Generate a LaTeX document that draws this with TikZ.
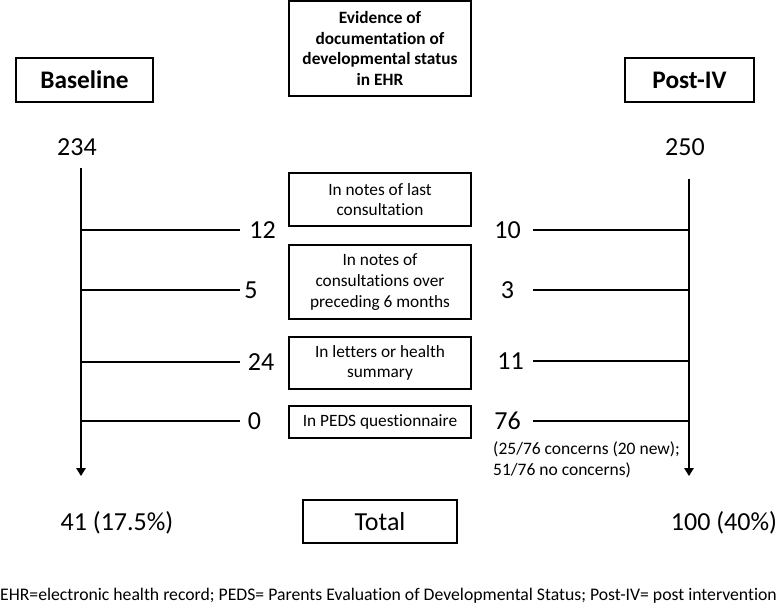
\documentclass[tikz,border=0pt]{standalone}
\usepackage{fontspec}
\setmainfont{Carlito}[Ligatures=CommonOff]
\usetikzlibrary{arrows.meta}

\begin{document}
\begin{tikzpicture}[x=1pt, y=-1pt,
  caja/.style={draw, line width=1.3pt, align=center, inner sep=2pt,
               minimum width=182pt, font=\fontsize{17.3}{20.7}\selectfont},
  cabecera/.style={draw, line width=1.3pt, minimum height=44pt,
               font=\fontsize{25.3}{30}\selectfont\bfseries},
  cifra/.style={font=\fontsize{26}{30}\selectfont, inner sep=0pt},
  nota/.style={font=\fontsize{17.5}{21}\selectfont, inner sep=0pt},
  linea/.style={line width=1.4pt},
  flecha/.style={linea, -{Triangle[length=8pt, width=9.5pt]}}]
  \useasboundingbox (0,0) rectangle (777,615);
  % Cabeceras
  \node[cabecera, minimum width=137pt] (base) at (84.5,80) {Baseline};
  \node[cabecera, minimum width=129pt] (post) at (689.5,80) {Post-IV};
  \node[caja, minimum height=95pt, font=\fontsize{17.3}{20.7}\selectfont\bfseries]
       (evid) at (380,48.5)
       {Evidence of\\documentation of\\developmental status\\in EHR};
  \node[cifra] (n234) at (77,147) {234};
  \node[cifra] (n250) at (685,147) {250};
  % Cajas centrales
  \node[caja, minimum height=53pt] (ult) at (380,199.5)
       {In notes of last\\consultation};
  \node[caja, minimum height=74pt] (prev) at (380,282)
       {In notes of\\consultations over\\preceding 6 months};
  \node[caja, minimum height=52pt] (cart) at (380,363)
       {In letters or health\\summary};
  \node[caja, minimum height=32pt] (peds) at (380,422)
       {In PEDS questionnaire};
  \node[caja, minimum width=154pt, minimum height=43pt,
        font=\fontsize{26}{30}\selectfont] (total) at (380,521.5) {Total};
  % Cifras
  \node[cifra] (l12) at (262.5,230) {12};
  \node[cifra] (l5)  at (251,290) {5};
  \node[cifra] (l24) at (261,362) {24};
  \node[cifra] (l0)  at (254.5,421) {0};
  \node[cifra] (r10) at (507.5,230) {10};
  \node[cifra] (r3)  at (507.5,290) {3};
  \node[cifra] (r11) at (510.5,361) {11};
  \node[cifra] (r76) at (507.5,421) {76};
  \node[nota, align=left, anchor=north west] (conc) at (493,441)
       {(25/76 concerns (20 new);\\51/76 no concerns)};
  \node[cifra] (tbase) at (117,523) {41 (17.5\%)};
  \node[cifra] (tpost) at (724,523) {100 (40\%)};
  \node[nota, font=\fontsize{17.7}{21}\selectfont] (pie) at (388.5,596)
       {EHR=electronic health record; PEDS= Parents Evaluation of Developmental Status; Post-IV= post intervention};
  % Lineas
  \coordinate (lini) at (81,168);
  \coordinate (lfin) at (81,476);
  \coordinate (rini) at (689,179);
  \coordinate (rfin) at (689,476);
  \coordinate (lcorte) at (240,0);
  \coordinate (rcorte) at (533,0);
  \draw[flecha] (lini) -- (lfin);
  \draw[flecha] (rini) -- (rfin);
  \foreach \n in {l12,l5,l24,l0}
    \draw[linea] (\n -| lini) -- (\n -| lcorte);
  \foreach \n in {r10,r3,r11,r76}
    \draw[linea] (\n -| rcorte) -- (\n -| rini);
\end{tikzpicture}
\end{document}
